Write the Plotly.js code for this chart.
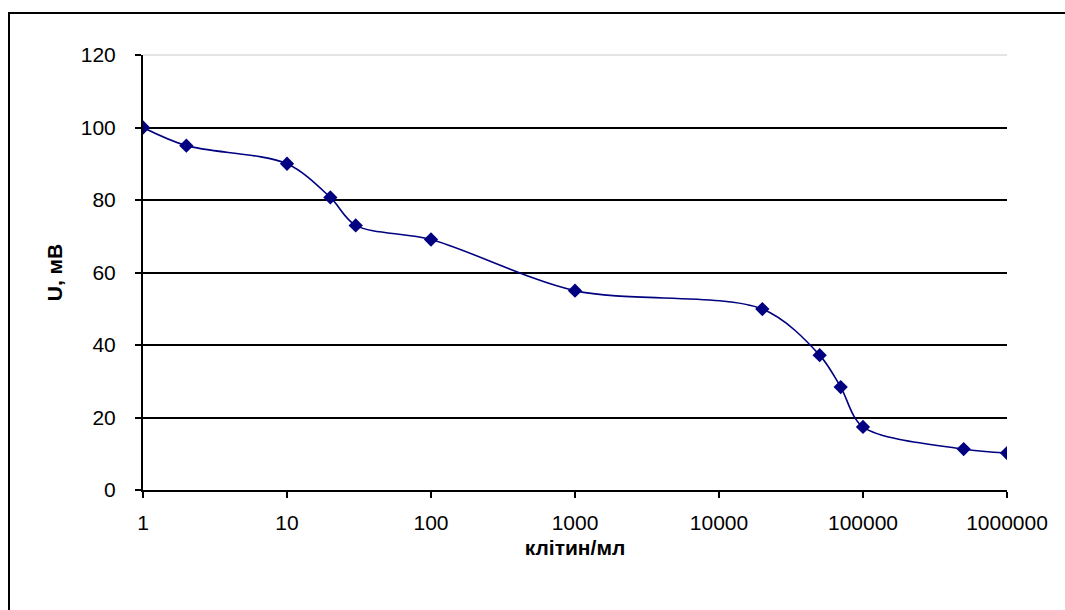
<!DOCTYPE html>
<html>
<head>
<meta charset="utf-8">
<script src="https://cdn.plot.ly/plotly-3.0.1.min.js"></script>
<style>
  html, body { margin: 0; padding: 0; background: #ffffff; overflow: hidden; }
  #wrap { position: relative; width: 1065px; height: 610px; overflow: hidden; }
  #chart { width: 1065px; height: 610px; }
  #frame { position: absolute; left: 8px; top: 12px; width: 2000px; height: 2000px;
           border: 2px solid #000000; pointer-events: none; box-sizing: border-box; }
</style>
</head>
<body>
<div id="wrap">
  <div id="chart"></div>
  <div id="frame"></div>
</div>
<script>
// Concentration of cells (клітин/мл) and signal (U, мВ)
const cellsPerMl = [1, 2, 10, 20, 30, 100, 1000, 20000, 50000, 70000, 100000, 500000, 1000000];
const voltageMv  = [100, 95, 90, 80.7, 73, 69.1, 55, 49.9, 37.2, 28.4, 17.4, 11.3, 10.2];

const xTickVals  = [1, 10, 100, 1000, 10000, 100000, 1000000];
const xTickText  = ['1', '10', '100', '1000', '10000', '100000', '1000000'];
const yTickVals  = [0, 20, 40, 60, 80, 100, 120];

const xTitle = 'клітин/мл';
const yTitle = 'U, мВ';

const FONT = 'Arial, "Liberation Sans", sans-serif';

const trace = {
  x: cellsPerMl,
  y: voltageMv,
  type: 'scatter',
  mode: 'lines+markers',
  line: { color: '#000080', width: 1.6, shape: 'spline', smoothing: 0.9 },
  marker: { symbol: 'diamond', size: 11, color: '#000080' },
  hoverinfo: 'x+y'
};

const layout = {
  width: 1065,
  height: 610,
  margin: { l: 143, r: 58, t: 55, b: 120, pad: 0 },
  paper_bgcolor: '#ffffff',
  plot_bgcolor: '#ffffff',
  showlegend: false,
  font: { family: FONT, size: 21, color: '#000000' },
  xaxis: {
    type: 'log',
    range: [0, 6],
    tickmode: 'array',
    tickvals: xTickVals,
    ticktext: xTickText,
    ticks: 'outside',
    ticklen: 6,
    tickwidth: 2,
    tickcolor: '#000000',
    showline: true,
    linecolor: '#000000',
    linewidth: 2,
    showgrid: false,
    zeroline: false,
    ticklabelstandoff: 7,
    tickfont: { family: FONT, size: 21, color: '#000000' },
    title: { text: xTitle, font: { family: FONT, size: 21, color: '#000000', weight: 'bold' }, standoff: 7 },
    automargin: false
  },
  yaxis: {
    range: [0, 120],
    tickmode: 'array',
    tickvals: yTickVals,
    ticks: 'outside',
    ticklen: 6,
    tickwidth: 2,
    tickcolor: '#000000',
    showline: true,
    linecolor: '#000000',
    linewidth: 2,
    showgrid: true,
    gridcolor: '#000000',
    gridwidth: 2,
    zeroline: false,
    ticklabelstandoff: 15,
    tickfont: { family: FONT, size: 21, color: '#000000' },
    title: { text: yTitle, font: { family: FONT, size: 21, color: '#000000', weight: 'bold' }, standoff: 12 },
    automargin: false
  },
  shapes: [
    // light grey top edge of plot area (covers the top gridline)
    { type: 'line', xref: 'paper', yref: 'paper', x0: 0, x1: 1, y0: 1, y1: 1,
      line: { color: '#e4e4e4', width: 2 }, layer: 'above' }
  ]
};

Plotly.newPlot('chart', [trace], layout, { displayModeBar: false, staticPlot: true });
</script>
</body>
</html>
